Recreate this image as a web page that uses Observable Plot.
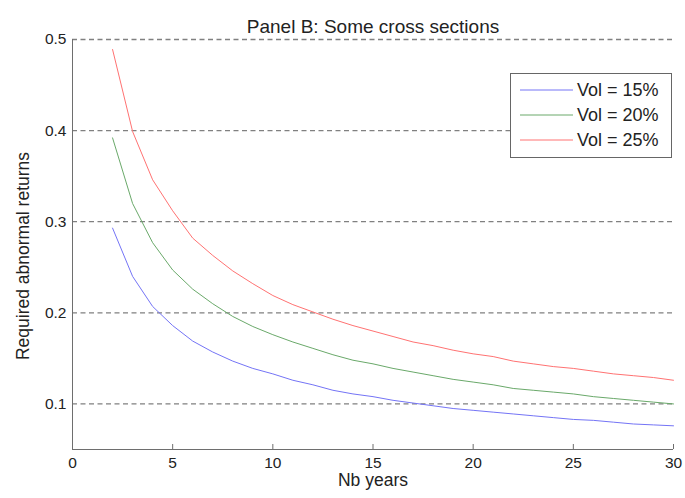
<!DOCTYPE html>
<html><head><meta charset="utf-8">
<script src="https://cdn.jsdelivr.net/npm/d3@7"></script>
<script src="https://cdn.jsdelivr.net/npm/@observablehq/plot@0.6"></script>
<style>body{margin:0;background:#fff}</style></head>
<body><div id="chart"></div>
<script>
const years = [2,3,4,5,6,7,8,9,10,11,12,13,14,15,16,17,18,19,20,21,22,23,24,25,26,27,28,29,30];
const vol15 = [0.293,0.240,0.207,0.186,0.169,0.157,0.147,0.139,0.133,0.126,0.121,0.115,0.111,0.108,0.104,0.101,0.098,0.095,0.093,0.091,0.089,0.087,0.085,0.083,0.082,0.080,0.078,0.077,0.076];
const vol20 = [0.392,0.320,0.277,0.247,0.226,0.210,0.196,0.185,0.176,0.168,0.161,0.154,0.148,0.144,0.139,0.135,0.131,0.127,0.124,0.121,0.117,0.115,0.113,0.111,0.108,0.106,0.104,0.102,0.100];
const vol25 = [0.489,0.399,0.346,0.312,0.282,0.263,0.246,0.232,0.219,0.209,0.201,0.193,0.186,0.180,0.174,0.168,0.164,0.159,0.155,0.152,0.147,0.144,0.141,0.139,0.136,0.133,0.131,0.129,0.126];
const seriesNames = ["Vol = 15%","Vol = 20%","Vol = 25%"];
const seriesColors = ["#7474f6","#6aa96a","#ff7272"];
const xTicks = [0,5,10,15,20,25,30];
const yTicks = [0.1,0.2,0.3,0.4,0.5];
const titleText = "Panel B: Some cross sections";
const xLabel = "Nb years";
const yLabel = "Required abnormal returns";

const seriesValues = [vol15, vol20, vol25];
const rows = [];
seriesValues.forEach((vals, i) => vals.forEach((v, j) => rows.push({year: years[j], value: v, series: seriesNames[i]})));

const font = "'Liberation Sans', Arial, Helvetica, sans-serif";
const plot = Plot.plot({
  width: 685, height: 498,
  marginLeft: 72, marginRight: 12, marginTop: 39, marginBottom: 49,
  style: {fontFamily: font, fontSize: "15px", background: "#fff", color: "#222"},
  x: {domain: [0, 30]},
  y: {domain: [0.05, 0.5]},
  color: {domain: seriesNames, range: seriesColors},
  marks: [
    Plot.ruleY(yTicks, {stroke: "#808080", strokeWidth: 1.3, strokeDasharray: "5,3.5"}),
    Plot.ruleX([0], {stroke: "#6e6e6e", strokeWidth: 1}),
    Plot.ruleY([0.05], {stroke: "#6e6e6e", strokeWidth: 1}),
    Plot.axisX({ticks: xTicks, tickSize: 0, tickPadding: 7, tickFormat: d => String(d), fontSize: 15.5,
      label: null}),
    Plot.axisX({ticks: xTicks, tickSize: -5, text: null, label: null, stroke: "#6e6e6e"}),
    Plot.axisY({ticks: yTicks, tickSize: 0, tickPadding: 6, tickFormat: d => String(d), fontSize: 15.5,
      label: null}),
    Plot.text([xLabel], {frameAnchor: "bottom", dy: 36, fontSize: 17.5, fill: "#222"}),
    Plot.line(rows, {x: "year", y: "value", stroke: "series", strokeWidth: 1}),
    Plot.text([titleText], {frameAnchor: "top", dy: -20, fontSize: 19, fill: "#222"})
  ]
});
document.getElementById("chart").appendChild(plot);

const svg = d3.select(plot);
// y-axis label
svg.append("text").attr("transform", "translate(23,256) rotate(-90)")
  .attr("text-anchor", "middle").attr("dy", "0.35em").attr("font-family", font)
  .attr("font-size", 17.5).attr("fill", "#222").text(yLabel);

// legend overlay
const lg = svg.append("g").attr("font-family", font).attr("font-size", 18).attr("text-anchor", "start");
lg.append("rect").attr("x", 510.5).attr("y", 73.5).attr("width", 161).attr("height", 84)
  .attr("fill", "#fff").attr("stroke", "#666").attr("stroke-width", 1);
seriesNames.forEach((name, i) => {
  const cy = 90 + i * 25;
  lg.append("line").attr("x1", 520).attr("x2", 573).attr("y1", cy).attr("y2", cy)
    .attr("stroke", seriesColors[i]).attr("stroke-width", 1);
  lg.append("text").attr("x", 577).attr("y", cy).attr("dy", "0.35em").attr("fill", "#222").text(name);
});
</script></body></html>
